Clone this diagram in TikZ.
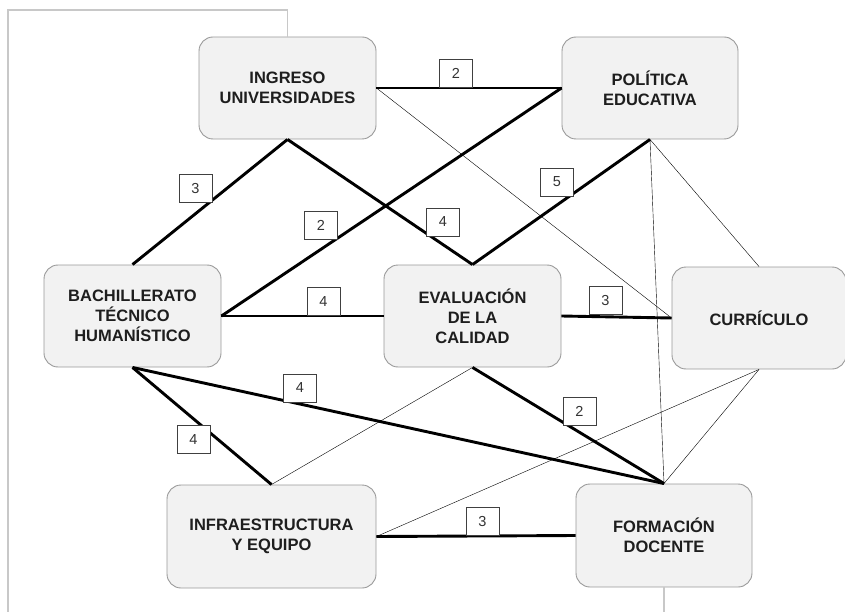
\documentclass[tikz,border=0pt]{standalone}
\usepackage{fontspec}
\setmainfont{Liberation Sans}
\definecolor{boxfill}{HTML}{F2F2F2}
\definecolor{boxline}{HTML}{9A9A9A}
\definecolor{txt}{HTML}{1E1E1E}
\definecolor{thin}{HTML}{CDCDCD}
\definecolor{framec}{HTML}{C8C8C8}
\begin{document}
\begin{tikzpicture}[x={(1pt,0pt)},y={(0pt,-1pt)},
  box/.style={draw=boxline, line width=0.9pt, fill=boxfill, rounded corners=14pt, align=center,
    font=\fontsize{16.5}{20}\selectfont\bfseries, text=txt, inner sep=0pt},
  strong/.style={line width=2.9pt, black},
  weak/.style={line width=1pt, thin},
  num/.style={draw=black!75, line width=0.9pt, fill=white, minimum width=33pt, minimum height=28pt,
    inner sep=0pt, font=\fontsize{14.5}{14.5}\selectfont, text=black!80},
  framel/.style={line width=1.2pt, framec}]
\useasboundingbox (0,0) rectangle (845,612);
% nodes
\node[box, minimum width=177pt, minimum height=102pt] (ing) at (287.5,88) {INGRESO\\UNIVERSIDADES};
\node[box, minimum width=176pt, minimum height=102pt] (pol) at (650,88) {POLÍTICA\\EDUCATIVA};
\node[box, minimum width=177pt, minimum height=102pt] (bach) at (132.5,316) {BACHILLERATO\\TÉCNICO\\HUMANÍSTICO};
\node[box, minimum width=177pt, minimum height=102pt] (eval) at (472.5,316) {EVALUACIÓN\\DE LA\\CALIDAD};
\node[box, minimum width=174pt, minimum height=102pt] (cur) at (759,318) {CURRÍCULO};
\node[box, minimum width=209pt, minimum height=103pt] (inf) at (271.5,536.5) {INFRAESTRUCTURA\\Y EQUIPO};
\node[box, minimum width=176pt, minimum height=103pt] (for) at (664,535.5) {FORMACIÓN\\DOCENTE};
% frame lines
\coordinate (fa) at (8,612);
\coordinate (fb) at (8,10);
\coordinate (fc) at (287.5,10);
\coordinate (fd) at (664,612);
\draw[framel] (fa) -- (fb) -- (fc) -- (ing.north);
\draw[framel] (for.south) -- (fd);
% thin connectors
\draw[weak] (ing.east) -- (cur.west);
\draw[weak] (pol.south) -- (for.north);
\draw[weak] (pol.south) -- (cur.north);
\draw[weak] (eval.south) -- (inf.north);
\draw[weak] (cur.south) -- (inf.east);
\draw[weak] (cur.south) -- (for.north);
% strong connectors
\draw[strong] (ing.east) -- (pol.west);
\draw[strong] (ing.south) -- (bach.north);
\draw[strong] (ing.south) -- (eval.north);
\draw[strong] (pol.west) -- (bach.east);
\draw[strong] (pol.south) -- (eval.north);
\draw[strong] (bach.east) -- (eval.west);
\draw[strong] (eval.east) -- (cur.west);
\draw[strong] (bach.south) -- (for.north);
\draw[strong] (bach.south) -- (inf.north);
\draw[strong] (eval.south) -- (for.north);
\draw[strong] (inf.east) -- (for.west);
% weight labels
\node[num] (l1) at (456,73) {2};
\node[num] (l2) at (195.5,188.5) {3};
\node[num] (l3) at (443,222) {4};
\node[num] (l4) at (321,225.5) {2};
\node[num] (l5) at (557,182) {5};
\node[num] (l6) at (323.5,301.5) {4};
\node[num] (l7) at (605.5,300.5) {3};
\node[num] (l8) at (300,388) {4};
\node[num] (l9) at (193.5,439.5) {4};
\node[num] (l10) at (579.5,411) {2};
\node[num] (l11) at (482.5,521.5) {3};
\end{tikzpicture}
\end{document}
